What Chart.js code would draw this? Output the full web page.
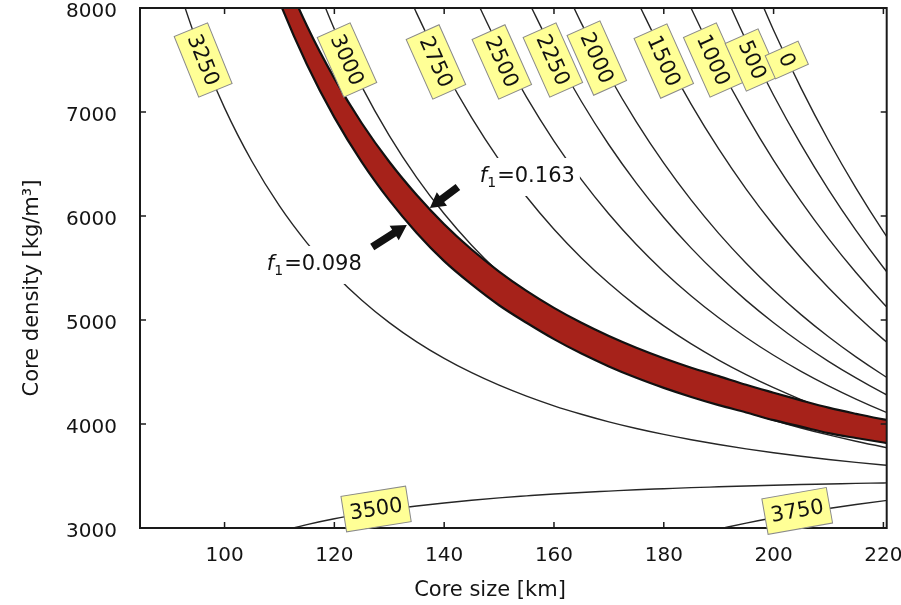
<!DOCTYPE html>
<html>
<head>
<meta charset="utf-8">
<script src="https://cdn.jsdelivr.net/npm/chart.js@4/dist/chart.umd.min.js"></script>
<style>
html,body{margin:0;padding:0;background:#fff;}
#wrap{width:901px;height:605px;position:relative;}
</style>
</head>
<body>
<div id="wrap"><canvas id="c"></canvas></div>
<script>
// ---------- data ----------
// core size grid [km]; each curve's values are aligned to the END of this grid
const xGrid = [85,90,95,100,105,110,115,120,125,130,135,140,145,150,155,160,165,170,175,180,185,190,195,200,205,210,215,220,225];
const xTicks = [100,120,140,160,180,200,220];
const yTicks = [3000,4000,5000,6000,7000,8000];

// contour curves: core density [kg/m^3]
const d0    = [8401,7786,7230,6726,6268,5850,5469];
const d500  = [8269,7687,7161,6686,6254,5862,5505,5178];
const d1000 = [8594,7995,7457,6973,6536,6141,5782,5456,5159,4888];
const d1500 = [8085,7551,7074,6645,6259,5911,5596,5311,5051,4814,4598];
const d2000 = [8418,7852,7351,6905,6508,6152,5833,5546,5286,5052,4839,4645,4469,4308];
const d2250 = [8101,7570,7101,6685,6316,5986,5691,5427,5189,4974,4779,4603,4443,4296,4163];
const d2500 = [8171,7623,7143,6721,6349,6019,5726,5465,5231,5021,4832,4661,4507,4367,4240,4124,4018];
const d2750 = [8572,7948,7411,6945,6540,6185,5873,5597,5353,5136,4943,4770,4615,4475,4349,4235,4131,4037,3951,3873];
const d3000 = [8451,7797,7244,6773,6369,6021,5719,5456,5226,5024,4845,4687,4547,4421,4309,4209,4118,4036,3962,3895,3834,3779,3728];
const d3250 = [8449,7670,7040,6524,6097,5742,5443,5190,4975,4790,4631,4493,4373,4268,4175,4094,4021,3957,3900,3849,3803,3761,3724,3690,3659,3631,3606,3583];
const d3500 = [2967,3033,3089,3136,3177,3211,3241,3267,3290,3309,3327,3342,3355,3368,3378,3388,3396,3404,3411,3418,3423,3429,3433,3438];
const d3750 = [2990,3047,3099,3145,3187,3226,3261,3293];

// band between f1 = 0.098 (lower) and f1 = 0.163 (upper)
const bandLow  = [8787,8062,7457,6948,6518,6152,5837,5566,5342,5142,4973,4816,4677,4554,4444,4347,4260,4181,4111,4037,3975,3912,3865,3822,3782];
const bandHigh = [9188,8436,7829,7323,6892,6522,6202,5921,5678,5466,5280,5117,4973,4846,4733,4632,4541,4460,4377,4301,4227,4157,4098,4044,4003];

const contourSeries = [d0,d500,d1000,d1500,d2000,d2250,d2500,d2750,d3000,d3250,d3500,d3750];
const contourNames  = ['0','500','1000','1500','2000','2250','2500','2750','3000','3250','3500','3750'];

// label annotations (text, core size, density, angle in degrees)
const labelText = ['3250','3000','2750','2500','2250','2000','1500','1000','500','0','3500','3750'];
const labelSize = [96.1,122.3,138.5,150.5,159.8,167.8,180.0,189.0,196.1,202.4,127.6,204.3];
const labelDens = [7500,7500,7481,7481,7500,7519,7490,7500,7500,7500,3183,3164];
const labelAngle = [68,66,66,66,66,66,66,66,66,66,-9,-10];

// f1 annotations
const fText = ['=0.163','=0.098'];
const fSize = [146.5,107.7];
const fDens = [6327,5481];
// arrows: tail -> tip (core size, density)
const arrowTail = [[142.5,6279],[126.9,5702]];
const arrowTip  = [[137.4,6077],[133.2,5914]];

// ---------- build ----------
function pts(vals){
  const off = xGrid.length - vals.length;
  return vals.map((v,i)=>({x:xGrid[off+i], y:v}));
}
const FONT = '"DejaVu Sans", sans-serif';
Chart.defaults.font.family = FONT;
Chart.defaults.color = '#141414';

const datasets = [
  {label:'f1=0.098', data:pts(bandLow), showLine:true, pointRadius:0, borderColor:'#111', borderWidth:2.2,
   cubicInterpolationMode:'monotone', fill:false, order:0},
  {label:'f1=0.163', data:pts(bandHigh), showLine:true, pointRadius:0, borderColor:'#111', borderWidth:2.2,
   cubicInterpolationMode:'monotone', fill:'-1', backgroundColor:'#a6221a', order:0}
];
contourSeries.forEach((s,i)=>{
  datasets.push({label:contourNames[i], data:pts(s), showLine:true, pointRadius:0,
    borderColor:'#262626', borderWidth:1.4, cubicInterpolationMode:'monotone', fill:false, order:1});
});

const overlay = {
  id:'overlay',
  afterDatasetsDraw(chart){
    const {ctx, chartArea:a, scales:{x,y}} = chart;
    ctx.save();
    // frame
    ctx.strokeStyle = '#1a1a1a'; ctx.lineWidth = 2;
    ctx.strokeRect(a.left, a.top, a.right-a.left, a.bottom-a.top);
    // inward ticks on all sides
    ctx.lineWidth = 1.5;
    const seg=(x0,y0,x1,y1)=>{ctx.beginPath();ctx.moveTo(x0,y0);ctx.lineTo(x1,y1);ctx.stroke();};
    xTicks.forEach(v=>{const p=x.getPixelForValue(v); seg(p,a.bottom,p,a.bottom-6); seg(p,a.top,p,a.top+6);});
    yTicks.forEach(v=>{const p=y.getPixelForValue(v); seg(a.left,p,a.left+6,p); seg(a.right,p,a.right-6,p);});

    // f1 labels with white backing
    fText.forEach((t,i)=>{
      const px=x.getPixelForValue(fSize[i]), py=y.getPixelForValue(fDens[i]);
      ctx.font='italic 21px '+FONT; const wf=ctx.measureText('f').width;
      ctx.font='14px '+FONT; const w1=ctx.measureText('1').width;
      ctx.font='21px '+FONT; const wr=ctx.measureText(t).width;
      ctx.fillStyle='#fff';
      ctx.fillRect(px-4, py-24, wf+w1+wr+10, 38);
      ctx.fillStyle='#111'; ctx.textBaseline='alphabetic'; ctx.textAlign='left';
      ctx.font='italic 21px '+FONT; ctx.fillText('f',px,py);
      ctx.font='14px '+FONT; ctx.fillText('1',px+wf,py+5);
      ctx.font='21px '+FONT; ctx.fillText(t,px+wf+w1+1,py);
    });

    // arrows
    ctx.fillStyle='#111';
    arrowTail.forEach((tl,i)=>{
      const x0=x.getPixelForValue(tl[0]), y0=y.getPixelForValue(tl[1]);
      const x1=x.getPixelForValue(arrowTip[i][0]), y1=y.getPixelForValue(arrowTip[i][1]);
      const dx=x1-x0, dy=y1-y0, L=Math.hypot(dx,dy), ux=dx/L, uy=dy/L, nx=-uy, ny=ux;
      const head=15, hw=8.5, sw=3.8, bx=x1-ux*head, by=y1-uy*head;
      ctx.beginPath();
      ctx.moveTo(x0+nx*sw,y0+ny*sw); ctx.lineTo(bx+nx*sw,by+ny*sw); ctx.lineTo(bx+nx*hw,by+ny*hw);
      ctx.lineTo(x1,y1); ctx.lineTo(bx-nx*hw,by-ny*hw); ctx.lineTo(bx-nx*sw,by-ny*sw);
      ctx.lineTo(x0-nx*sw,y0-ny*sw); ctx.closePath(); ctx.fill();
    });

    // yellow contour labels
    ctx.font='21px '+FONT;
    labelText.forEach((t,i)=>{
      const px=x.getPixelForValue(labelSize[i]), py=y.getPixelForValue(labelDens[i]);
      const w=ctx.measureText(t).width+12, h=36;
      ctx.save(); ctx.translate(px,py); ctx.rotate(labelAngle[i]*Math.PI/180);
      ctx.fillStyle='#ffff96'; ctx.fillRect(-w/2,-h/2,w,h);
      ctx.strokeStyle='#8a8a8a'; ctx.lineWidth=1; ctx.strokeRect(-w/2,-h/2,w,h);
      ctx.fillStyle='#111'; ctx.textAlign='center'; ctx.textBaseline='middle'; ctx.fillText(t,0,1);
      ctx.restore();
    });
    ctx.restore();
  }
};

const NB = '\u00a0';
new Chart(document.getElementById('c'), {
  type:'scatter',
  data:{datasets},
  options:{
    responsive:true, maintainAspectRatio:false, animation:false,
    layout:{padding:{left:0,right:14.3,top:8,bottom:0}},
    plugins:{legend:{display:false}, tooltip:{enabled:false}},
    scales:{
      x:{type:'linear', min:84.6, max:220.6,
         grid:{display:false, drawTicks:false}, border:{display:false},
         ticks:{font:{size:20}, padding:16, color:'#141414', callback:v=>String(v)},
         afterBuildTicks(s){ s.ticks = xTicks.map(v=>({value:v})); },
         afterFit(s){ s.height = 77; s.paddingLeft=0; s.paddingRight=0; },
         title:{display:true, text:'Core size [km]'+NB.repeat(7), font:{size:21}, color:'#141414', padding:{top:0,bottom:2}}},
      y:{type:'linear', min:3000, max:8000,
         grid:{display:false, drawTicks:false}, border:{display:false},
         ticks:{font:{size:20}, padding:23, labelOffset:4, color:'#141414', callback:v=>String(v)},
         afterBuildTicks(s){ s.ticks = yTicks.map(v=>({value:v})); },
         afterFit(s){ s.width = 140; s.paddingTop=0; s.paddingBottom=0; },
         title:{display:true, text:'Core density [kg/m\u00b3]'+NB.repeat(6), font:{size:21}, color:'#141414', padding:{top:20,bottom:0}}}
    }
  },
  plugins:[overlay]
});
</script>
</body>
</html>
